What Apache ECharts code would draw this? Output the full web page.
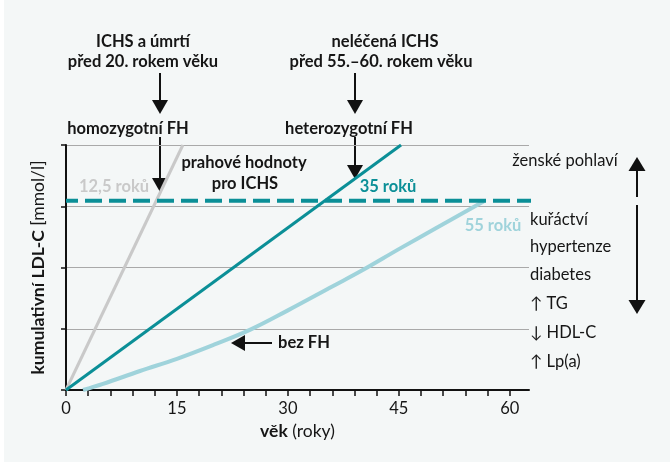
<!DOCTYPE html>
<html>
<head>
<meta charset="utf-8">
<script src="https://cdn.jsdelivr.net/npm/echarts@6/dist/echarts.min.js"></script>
<style>
html,body{margin:0;padding:0;background:#ffffff;}
#c{width:670px;height:465px;}
</style>
</head>
<body>
<div id="c"></div>
<script>
// ---- data ----
const homoAges = [0, 15.8];
const homoLDL = [0, 4];
const heteroAges = [0, 45.3];
const heteroLDL = [0, 4];
const noFHAges = [2.3, 5, 10, 15, 20, 25, 30, 36, 40, 45, 50, 56.5];
const noFHLDL = [0, 0.1, 0.31, 0.51, 0.74, 0.99, 1.3, 1.69, 1.95, 2.3, 2.64, 3.08];
const thresholdLDL = 3.09;
const thresholdAges = [0, 73.7];
const xTickValues = [0,3,6,9,12,15,18,21,24,27,30,33,36,39,42,45,48,51,54,57,60];
const xLabelValues = [0, 15, 30, 45, 60];

const zip = (a, b) => a.map((v, i) => [v, b[i]]);

const FONT = 'Lato';
const TXT = '#161616';
const TEAL = '#0b8f97';
const LIGHT = '#9fd3db';
const GRAY = '#c9c9c9';

const chart = echarts.init(document.getElementById('c'), null, {renderer: 'canvas'});

function arrowDown(x, y1, y2) { // shaft from y1 to tip y2
  return [
    {type: 'line', shape: {x1: x, y1: y1, x2: x, y2: y2 - 12}, style: {stroke: '#111', lineWidth: 2}},
    {type: 'polygon', shape: {points: [[x - 8, y2 - 14], [x + 8, y2 - 14], [x, y2]]}, style: {fill: '#111'}}
  ];
}
function txt(text, x, y, opts) {
  opts = opts || {};
  return {type: 'text', z: 100, style: {
    text: text, x: x, y: y,
    fill: opts.color || TXT,
    fontFamily: FONT,
    fontSize: opts.size || 16.5,
    fontWeight: opts.bold ? 'bold' : 'normal',
    align: opts.align || 'center',
    verticalAlign: 'middle'
  }};
}

const graphics = [
  {type: 'rect', z: -10, silent: true, shape: {x: 4, y: 0, width: 666, height: 462}, style: {fill: '#f4f7f7'}},
  txt('ICHS a úmrtí', 143, 42, {bold: true}),
  txt('před 20. rokem věku', 143, 62, {bold: true}),
  ...arrowDown(160, 73, 114),
  txt('homozygotní FH', 128, 129, {bold: true}),
  ...arrowDown(160, 137, 192),
  txt('neléčená ICHS', 385, 42, {bold: true}),
  txt('před 55.–60. rokem věku', 381, 62, {bold: true}),
  ...arrowDown(355, 73, 114),
  txt('heterozygotní FH', 349, 129, {bold: true}),
  ...arrowDown(355, 137, 179),
  txt('prahové hodnoty', 244, 163, {bold: true}),
  txt('pro ICHS', 245, 184, {bold: true}),
  txt('12,5 roků', 114, 187, {bold: true, color: GRAY}),
  txt('35 roků', 388, 187, {bold: true, color: TEAL}),
  txt('55 roků', 493, 226, {bold: true, color: LIGHT}),
  // bez FH arrow (left pointing)
  {type: 'line', shape: {x1: 272, y1: 343, x2: 243, y2: 343}, style: {stroke: '#111', lineWidth: 2}},
  {type: 'polygon', shape: {points: [[245, 335], [245, 351], [231, 343]]}, style: {fill: '#111'}},
  txt('bez FH', 304, 343, {bold: true}),
  // right side
  txt('ženské pohlaví', 565, 161, {}),
  txt('kuřáctví', 530, 220, {align: 'left'}),
  txt('hypertenze', 530, 247, {align: 'left'}),
  txt('diabetes', 530, 275, {align: 'left'}),
  txt('↑ TG', 530, 304, {align: 'left'}),
  txt('↓ HDL-C', 530, 333, {align: 'left'}),
  txt('↑ Lp(a)', 530, 362, {align: 'left'}),
  // double arrow
  {type: 'line', shape: {x1: 637, y1: 169, x2: 637, y2: 197}, style: {stroke: '#111', lineWidth: 2}},
  {type: 'polygon', shape: {points: [[628.5, 171], [645.5, 171], [637, 157]]}, style: {fill: '#111'}},
  {type: 'line', shape: {x1: 637, y1: 205, x2: 637, y2: 302}, style: {stroke: '#111', lineWidth: 2}},
  {type: 'polygon', shape: {points: [[628.5, 300], [645.5, 300], [637, 314]]}, style: {fill: '#111'}}
];

const option = {
  animation: false,
  backgroundColor: 'transparent',
  grid: {left: 66, right: 141, top: 145, bottom: 75, containLabel: false},
  xAxis: {
    type: 'value', min: 0, max: 62.6,
    name: '{b|věk} (roky)',
    nameLocation: 'middle', nameGap: 28,
    nameTextStyle: {fontFamily: FONT, fontSize: 17.5, color: TXT,
      rich: {b: {fontFamily: FONT, fontSize: 17.5, fontWeight: 'bold', color: TXT}}},
    axisLine: {lineStyle: {color: '#111', width: 2}},
    axisTick: {show: true, length: 6, lineStyle: {color: '#111', width: 1.5}, customValues: xTickValues},
    axisLabel: {customValues: xLabelValues, fontFamily: FONT, fontSize: 16.5, color: TXT, margin: 10},
    splitLine: {show: false}
  },
  yAxis: {
    type: 'value', min: 0, max: 4, interval: 1,
    name: '{b|kumulativní LDL-C} [mmol/l]',
    nameLocation: 'middle', nameGap: 19,
    nameTextStyle: {fontFamily: FONT, fontSize: 17.5, color: TXT,
      rich: {b: {fontFamily: FONT, fontSize: 17.5, fontWeight: 'bold', color: TXT}}},
    axisLine: {show: true, lineStyle: {color: '#111', width: 2}},
    axisTick: {show: true, length: 5, lineStyle: {color: '#111', width: 1.5}},
    axisLabel: {show: false},
    splitLine: {show: true, lineStyle: {color: '#a9a9a9', width: 1}}
  },
  series: [
    {type: 'line', name: 'bez FH', data: zip(noFHAges, noFHLDL), smooth: 0.4, showSymbol: false,
      lineStyle: {color: LIGHT, width: 4}, z: 3},
    {type: 'line', name: 'homozygotní FH', data: zip(homoAges, homoLDL), showSymbol: false,
      lineStyle: {color: GRAY, width: 3}, z: 3},
    {type: 'line', name: 'heterozygotní FH', data: zip(heteroAges, heteroLDL), showSymbol: false,
      lineStyle: {color: TEAL, width: 3}, z: 4},
    {type: 'line', name: 'prahové hodnoty', data: thresholdAges.map(a => [a, thresholdLDL]), showSymbol: false, clip: false,
      lineStyle: {color: TEAL, width: 4, type: [17, 7], dashOffset: 5, cap: 'butt'}, z: 5}
  ],
  graphic: graphics
};
chart.setOption(option);
</script>
</body>
</html>
